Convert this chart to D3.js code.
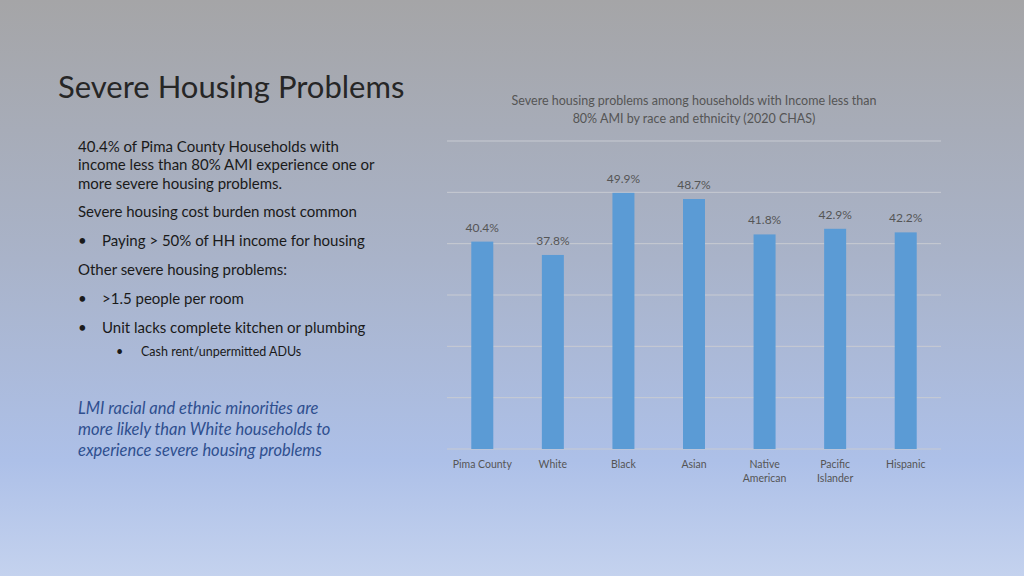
<!DOCTYPE html>
<html><head><meta charset="utf-8">
<script src="https://cdn.jsdelivr.net/npm/d3@7"></script>
<style>body{margin:0}svg{display:block;font-family:Lato,"Open Sans",sans-serif}</style>
</head><body><svg id="c" width="1024" height="576"></svg>
<script>
var categories = ['Pima County', 'White', 'Black', 'Asian', 'Native American', 'Pacific Islander', 'Hispanic'];
var values = [40.4, 37.8, 49.9, 48.7, 41.8, 42.9, 42.2];
var yTicks = [0, 10, 20, 30, 40, 50, 60];
var bodyLines = [
  {t: '40.4% of Pima County Households with', x: 78, y: 152, s: 15},
  {t: 'income less than 80% AMI experience one or', x: 78, y: 170, s: 15},
  {t: 'more severe housing problems.', x: 78, y: 189, s: 15},
  {t: 'Severe housing cost burden most common', x: 78, y: 217, s: 15},
  {t: 'Paying > 50% of HH income for housing', x: 102, y: 246, s: 15, b: 78},
  {t: 'Other severe housing problems:', x: 78, y: 275, s: 15},
  {t: '>1.5 people per room', x: 102, y: 304, s: 15, b: 78},
  {t: 'Unit lacks complete kitchen or plumbing', x: 102, y: 333, s: 15, b: 78},
  {t: 'Cash rent/unpermitted ADUs', x: 141, y: 356, s: 12.5, b: 116}
];
var noteLines = ['LMI racial and ethnic minorities are', 'more likely than White households to', 'experience severe housing problems'];

var svg = d3.select('#c');
var defs = svg.append('defs');
var g = defs.append('linearGradient').attr('id', 'bg').attr('x1', 0).attr('y1', 0).attr('x2', 0).attr('y2', 1);
g.append('stop').attr('offset', '0%').attr('stop-color', '#a5a5a7');
g.append('stop').attr('offset', '45%').attr('stop-color', '#a9b3c9');
g.append('stop').attr('offset', '80%').attr('stop-color', '#adc0e8');
g.append('stop').attr('offset', '100%').attr('stop-color', '#c4d2ee');
svg.append('rect').attr('width', 1024).attr('height', 576).attr('fill', 'url(#bg)');

svg.append('text').attr('x', 58).attr('y', 98).attr('font-size', 31).attr('fill', '#262626').text('Severe Housing Problems');

bodyLines.forEach(function(l) {
  svg.append('text').attr('x', l.x).attr('y', l.y).attr('font-size', l.s).attr('fill', '#1a1a1a').text(l.t);
  if (l.b) svg.append('text').attr('x', l.b).attr('y', l.y).attr('font-size', l.s).attr('fill', '#1a1a1a').text('•');
});
noteLines.forEach(function(t, i) {
  svg.append('text').attr('x', 78).attr('y', 414 + i * 21).attr('font-size', 16.5).attr('font-style', 'italic')
    .attr('fill', '#2f4f8f').text(t);
});

// chart
svg.append('text').attr('x', 694).attr('y', 105).attr('text-anchor', 'middle').attr('font-size', 12.5).attr('fill', '#555')
  .text('Severe housing problems among households with Income less than');
svg.append('text').attr('x', 694).attr('y', 123).attr('text-anchor', 'middle').attr('font-size', 12.5).attr('fill', '#555')
  .text('80% AMI by race and ethnicity (2020 CHAS)');

var x = d3.scaleBand().domain(categories).range([447, 941]);
var y = d3.scaleLinear().domain([0, 60]).range([449, 141]);

svg.append('g').selectAll('line').data(yTicks).join('line')
  .attr('x1', 447).attr('x2', 941).attr('y1', d => y(d)).attr('y2', d => y(d))
  .attr('stroke', '#c8cbd2').attr('stroke-width', 1);

var bw = 22;
svg.append('g').selectAll('rect').data(values).join('rect')
  .attr('x', (d, i) => x(categories[i]) + x.bandwidth() / 2 - bw / 2)
  .attr('y', d => y(d)).attr('width', bw).attr('height', d => y(0) - y(d))
  .attr('fill', '#5b9bd5');

svg.append('g').selectAll('text').data(values).join('text')
  .attr('x', (d, i) => x(categories[i]) + x.bandwidth() / 2)
  .attr('y', d => y(d) - 10).attr('text-anchor', 'middle').attr('font-size', 12).attr('fill', '#555')
  .text(d => d.toFixed(1) + '%');

svg.append('g').selectAll('text').data(categories).join('text')
  .attr('text-anchor', 'middle').attr('font-size', 10.5).attr('fill', '#555')
  .attr('transform', d => 'translate(' + (x(d) + x.bandwidth() / 2) + ',468)')
  .each(function(d) {
    var parts = d.indexOf(' ') > 0 && d !== 'Pima County' ? d.split(' ') : [d];
    d3.select(this).selectAll('tspan').data(parts).join('tspan')
      .attr('x', 0).attr('dy', (p, i) => i ? 14 : 0).text(p => p);
  });
</script></body></html>
